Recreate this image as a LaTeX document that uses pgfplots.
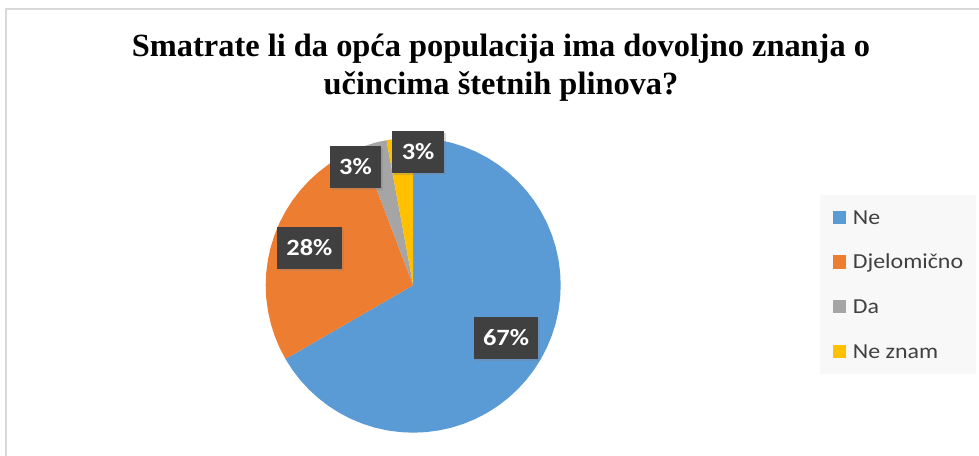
\documentclass[border=0pt]{standalone}
\usepackage{fontspec}
\setmainfont{Liberation Serif}
\newfontfamily\legfont[FakeStretch=1.12]{Carlito}
\newfontfamily\lblfont[FakeStretch=1.13]{Carlito Bold}
\usepackage{pgfplots}
\pgfplotsset{compat=1.18}
\usepgfplotslibrary{polar}
\usetikzlibrary{shadows}

\definecolor{neblue}{HTML}{5B9BD5}
\definecolor{djorange}{HTML}{ED7D31}
\definecolor{dagray}{HTML}{A5A5A5}
\definecolor{nzyellow}{HTML}{FFC000}
\definecolor{labelbg}{HTML}{404040}
\definecolor{legendbg}{HTML}{F8F8F8}
\definecolor{legtext}{HTML}{404040}
\definecolor{frame}{HTML}{D9D9D9}

\tikzset{lbl/.style={fill=labelbg, text=white, font=\lblfont\fontsize{17.5pt}{19pt}\selectfont,
    minimum height=31.5pt, inner xsep=7pt, inner ysep=0pt, text height=11pt, text depth=0pt,
    drop shadow={shadow xshift=1.5pt, shadow yshift=-1.5pt, opacity=0.3}}}

% answers: Ne 46, Djelomicno 19, Da 2, Ne znam 2 (n = 69)
% slice angles, clockwise from 12 o'clock:
% Ne 90 -> -150, Djelomicno 210 -> 110.87, Da 110.87 -> 100.43, Ne znam 100.43 -> 90

\begin{document}
\begin{tikzpicture}
\useasboundingbox (0,0) rectangle (734.25pt,342pt);
\draw[frame, line width=1pt] (4.5pt,-10pt) |- (760pt,335.25pt);

\node[anchor=base, font=\fontsize{24.3pt}{28pt}\selectfont\bfseries]
  at (375.75pt,299.5pt) {Smatrate li da opća populacija ima dovoljno znanja o};
\node[anchor=base, font=\fontsize{24.3pt}{28pt}\selectfont\bfseries]
  at (375.75pt,271pt) {učincima štetnih plinova?};

\begin{polaraxis}[
  at={(309.9pt,128.1pt)}, anchor=center,
  scale only axis, width=221.25pt, height=221.25pt,
  xmin=0, xmax=360, ymin=0, ymax=1,
  hide axis, clip=false,
  legend style={
    at={(axis description cs:1.879,0.806)}, anchor=north west,
    fill=legendbg, draw=none,
    inner xsep=9.4pt, inner ysep=10.1pt, row sep=20pt,
    font=\legfont\fontsize{16pt}{18pt}\selectfont, text=legtext,
    nodes={inner sep=0pt, text height=11.6pt, text depth=1.9pt},
    /tikz/every odd column/.style={column sep=5pt},
  },
  legend cell align=left,
  legend image code/.code={\path[#1, draw=none] (0pt,-4.85pt) rectangle (10.1pt,5.25pt);},
]
\addplot[fill=neblue, draw=none] coordinates {
  (0,0) (90,1) (85,1) (80,1) (75,1) (70,1) (65,1) (60,1) (55,1) (50,1) (45,1)
  (40,1) (35,1) (30,1) (25,1) (20,1) (15,1) (10,1) (5,1) (0,1) (-5,1) (-10,1)
  (-15,1) (-20,1) (-25,1) (-30,1) (-35,1) (-40,1) (-45,1) (-50,1) (-55,1) (-60,1)
  (-65,1) (-70,1) (-75,1) (-80,1) (-85,1) (-90,1) (-95,1) (-100,1) (-105,1)
  (-110,1) (-115,1) (-120,1) (-125,1) (-130,1) (-135,1) (-140,1) (-145,1) (-150,1)
};
\addplot[fill=djorange, draw=none] coordinates {
  (0,0) (210,1) (205,1) (200,1) (195,1) (190,1) (185,1) (180,1) (175,1) (170,1)
  (165,1) (160,1) (155,1) (150,1) (145,1) (140,1) (135,1) (130,1) (125,1) (120,1)
  (115,1) (110.87,1)
};
\addplot[fill=dagray, draw=none] coordinates {
  (0,0) (110.87,1) (110,1) (105,1) (100.43,1)
};
\addplot[fill=nzyellow, draw=none] coordinates {
  (0,0) (100.43,1) (95,1) (90,1)
};
\legend{Ne, Djelomično, Da, Ne znam}

\node[lbl] at (axis cs:-29.6,0.724) {67\%};
\node[lbl] at (axis cs:160.3,0.747) {28\%};
\node[lbl] at (axis cs:116.0,0.892) {3\%};
\node[lbl] at (axis cs:87.9,0.904) {3\%};
\end{polaraxis}
\end{tikzpicture}
\end{document}
